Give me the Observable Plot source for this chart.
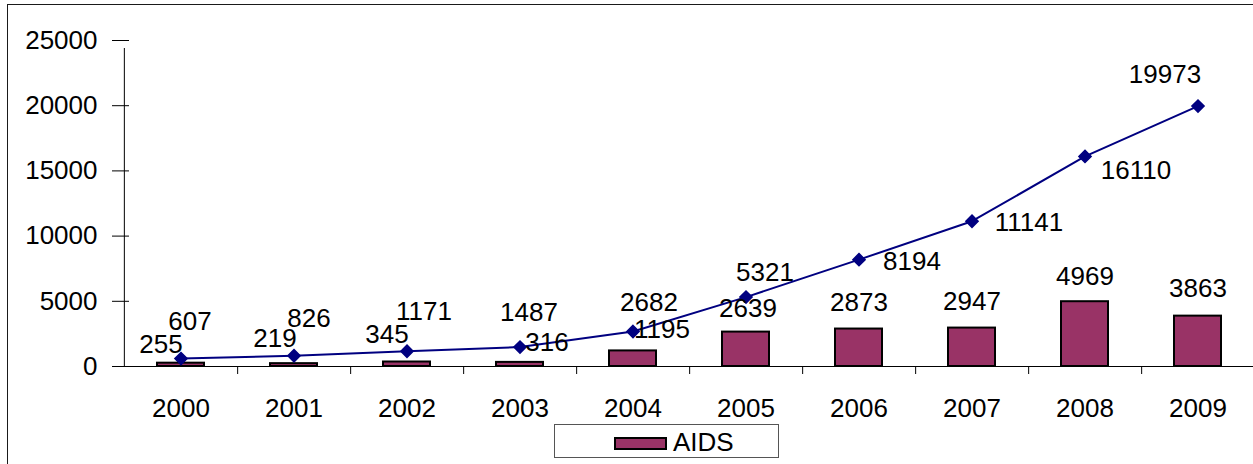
<!DOCTYPE html>
<html>
<head>
<meta charset="utf-8">
<script src="https://cdn.jsdelivr.net/npm/d3@7"></script>
<script src="https://cdn.jsdelivr.net/npm/@observablehq/plot@0.6"></script>
<style>
  html, body { margin: 0; padding: 0; background: #fff; overflow: hidden; width: 1253px; height: 464px; }
  #wrap { position: relative; width: 1253px; height: 464px; font-family: "Liberation Sans", Arial, sans-serif; }
  #chart { position: absolute; left: 0; top: 0; }
  #border { position: absolute; left: 7px; top: 4px; width: 1400px; height: 600px; border: 1.5px solid #1a1a1a; pointer-events: none; }
  #legend { position: absolute; left: 554px; top: 424px; width: 223px; height: 32px; border: 1px solid #555; background: #fff; }
  #legend .sw { position: absolute; left: 59px; top: 12px; width: 49px; height: 9px; border: 2px solid #000; background: #993366; }
  #legend .lb { position: absolute; left: 118px; top: 0; line-height: 34px; font-size: 26px; color: #000; }
</style>
</head>
<body>
<div id="wrap">
  <div id="chart"></div>
  <div id="border"></div>
  <div id="legend"><div class="sw"></div><div class="lb">AIDS</div></div>
</div>
<script>
// ---- data ----
const years = ["2000","2001","2002","2003","2004","2005","2006","2007","2008","2009"];
const aids = [255, 219, 345, 316, 1195, 2639, 2873, 2947, 4969, 3863];
const lineSeries = [607, 826, 1171, 1487, 2682, 5321, 8194, 11141, 16110, 19973];
const yTicks = [0, 5000, 10000, 15000, 20000, 25000];
const legendLabel = "AIDS";

// ---- label offsets (layout only) ----
const lineLabelDx = [9, 15, 17, 9, 16, 19, 53, 57, 51, -33];
const lineLabelDy = [-37, -37, -40, -34, -29, -24, 2, 1, 14, -31];
const barLabelDx = [-20, -19, -20, 27, 29, 2, 0, 0, 0, 0];
const barLabelDy = [-19, -25, -27, -20, -21, -23, -26, -26, -25, -27];

const rows = years.map((y, i) => ({year: y, aids: aids[i], total: lineSeries[i]}));

const W = 1253, H = 424;
const xLeft = 122, xRight = 1255, yTop = 40, yBottom = 366;
const step = (xRight - xLeft) / years.length;
const font = "Liberation Sans, Arial, sans-serif";
const FS = 26;

const marks = [
  Plot.barY(rows, {x: "year", y: "aids", fill: "#993366", stroke: "#000", strokeWidth: 2}),
  // x axis line
  Plot.ruleY([0], {stroke: "#000", strokeWidth: 1}),
  // y axis line (left edge of first band), extending down as a tick
  Plot.ruleX([years[0]], {x: d => d, y1: 0, y2: 25000, dx: -step / 2, insetBottom: -8, stroke: "#000", strokeWidth: 1}),
  // category boundary ticks
  Plot.ruleX(years, {x: d => d, y1: 0, y2: 0, dx: step / 2, insetBottom: -8, stroke: "#000", strokeWidth: 1}),
  // y ticks crossing the axis
  Plot.ruleY(yTicks, {y: d => d, insetLeft: -10, insetRight: W - 129, stroke: "#000", strokeWidth: 1}),
  Plot.line(rows, {x: "year", y: "total", stroke: "#000080", strokeWidth: 2}),
  Plot.dot(rows, {x: "year", y: "total", symbol: "diamond2", r: 5.5, fill: "#000080", stroke: "#000080"})
];

rows.forEach((d, i) => {
  marks.push(Plot.text([d], {x: "year", y: "total", text: r => String(r.total),
    dx: lineLabelDx[i], dy: lineLabelDy[i], fontSize: FS, fill: "#000"}));
  marks.push(Plot.text([d], {x: "year", y: "aids", text: r => String(r.aids),
    dx: barLabelDx[i], dy: barLabelDy[i], fontSize: FS, fill: "#000"}));
});

const chart = Plot.plot({
  width: W,
  height: H,
  marginLeft: xLeft,
  marginRight: 0,
  marginTop: yTop,
  marginBottom: H - yBottom,
  style: {fontFamily: font, fontSize: FS + "px", color: "#000", background: "transparent", overflow: "visible"},
  x: {type: "band", domain: years, range: [xLeft, xRight], paddingInner: 0.585, paddingOuter: 0.2925,
      tickSize: 0, tickPadding: 32, label: null},
  y: {domain: [0, 25000], range: [yBottom, yTop], ticks: yTicks, tickSize: 0, tickPadding: 25,
      tickFormat: d => String(d), label: null},
  marks
});
document.getElementById("chart").appendChild(chart);
document.querySelector("#legend .lb").textContent = legendLabel;
</script>
</body>
</html>
